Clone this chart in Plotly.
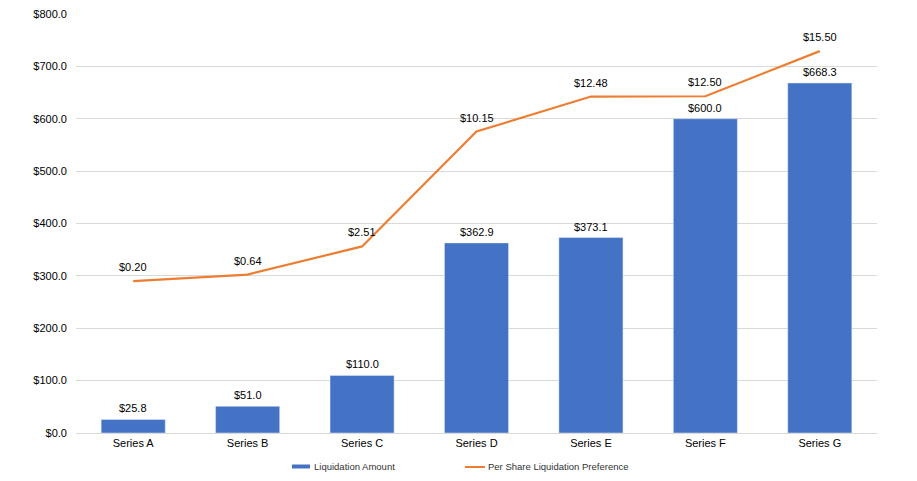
import plotly.graph_objects as go

categories = ['Series A', 'Series B', 'Series C', 'Series D', 'Series E', 'Series F', 'Series G']
liquidation_amount = [25.8, 51.0, 110.0, 362.9, 373.1, 600.0, 668.3]
per_share_pref = [0.20, 0.64, 2.51, 10.15, 12.48, 12.50, 15.50]

BLUE = '#4472C4'
ORANGE = '#ED7D31'
FONT = 'Liberation Sans, Arial, sans-serif'

# page body has an 8px default margin, so the figure is shrunk/shifted to fit
OFF = 8
W, H = 917 - OFF, 481 - OFF
L, R, T, B = 76 - OFF, 40, 14 - OFF, 48


def px_x(p):
    # page pixel -> paper x
    return (p - OFF - L) / (W - L - R)


def px_y(p):
    # page pixel -> paper y
    return (H - B - (p - OFF)) / (H - T - B)


fig = go.Figure()

fig.add_trace(go.Bar(
    x=categories, y=liquidation_amount, name='Liquidation Amount',
    marker_color=BLUE, showlegend=False,
))

fig.add_trace(go.Scatter(
    x=categories, y=per_share_pref, name='Per Share Liquidation Preference',
    yaxis='y2', mode='lines', showlegend=False,
    line=dict(color=ORANGE, width=2.2),
))

# data labels
for c, v in zip(categories, liquidation_amount):
    fig.add_annotation(x=c, y=v, yref='y', text=f'${v:,.1f}', showarrow=False,
                       yanchor='bottom', yshift=3, font=dict(size=11, color='#000000'))
for c, v in zip(categories, per_share_pref):
    fig.add_annotation(x=c, y=v, yref='y2', text=f'${v:,.2f}', showarrow=False,
                       yanchor='bottom', yshift=6, font=dict(size=11, color='#000000'))

# legend drawn by hand (wide bar swatch like the original)
fig.add_shape(type='rect', xref='paper', yref='paper',
              x0=px_x(292), x1=px_x(310), y0=px_y(468.5), y1=px_y(464.5),
              fillcolor=BLUE, line_width=0)
fig.add_annotation(xref='paper', yref='paper', x=px_x(312), y=px_y(466.5),
                   text='Liquidation Amount', showarrow=False,
                   xanchor='left', yanchor='middle',
                   font=dict(size=9.5, color='#333333'))
fig.add_shape(type='line', xref='paper', yref='paper',
              x0=px_x(465), x1=px_x(485), y0=px_y(467), y1=px_y(467),
              line=dict(color=ORANGE, width=2))
fig.add_annotation(xref='paper', yref='paper', x=px_x(486), y=px_y(466.5),
                   text='Per Share Liquidation Preference', showarrow=False,
                   xanchor='left', yanchor='middle',
                   font=dict(size=9.5, color='#333333'))

fig.update_layout(
    width=W, height=H,
    margin=dict(l=L, r=R, t=T, b=B),
    paper_bgcolor='white', plot_bgcolor='white',
    font=dict(family=FONT, size=11, color='#222222'),
    bargap=0.44,
    showlegend=False,
    xaxis=dict(showgrid=False, showline=True, linecolor='#d9d9d9', ticks='',
               automargin=False, tickfont=dict(size=11, color='#000000')),
    yaxis=dict(range=[0, 800.01], dtick=100, tickprefix='$', tickformat=',.1f',
               gridcolor='#d9d9d9', zeroline=False, ticks='', automargin=False,
               ticklabeloverflow='allow', ticklabelstandoff=8,
               tickfont=dict(size=11, color='#000000')),
    yaxis2=dict(range=[-9.9, 17.97], overlaying='y', side='right', visible=False,
                showgrid=False),
)

fig.write_html('out.html')
